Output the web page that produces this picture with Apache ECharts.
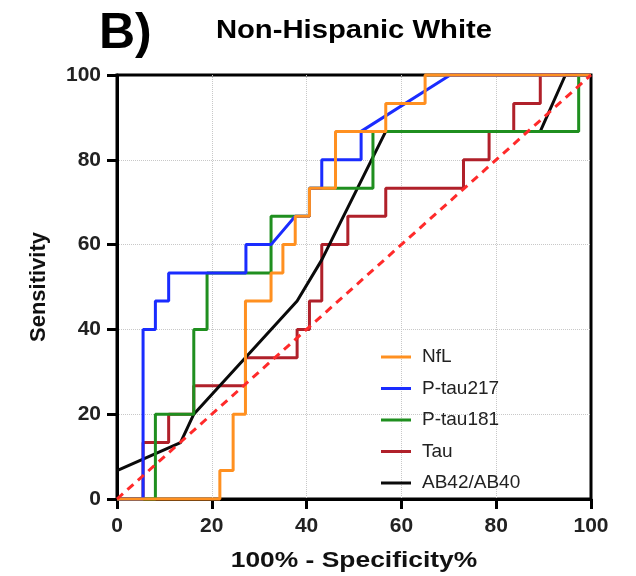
<!DOCTYPE html>
<html>
<head>
<meta charset="utf-8">
<script src="https://cdn.jsdelivr.net/npm/echarts@6/dist/echarts.min.js"></script>
<style>
  html, body { margin: 0; padding: 0; background: #fff; }
  #chart { width: 636px; height: 576px; }
</style>
</head>
<body>
<div id="chart"></div>
<script>
// ROC curve vertices (100% - specificity %, sensitivity %)
var nflX = [0, 21.7, 21.7, 24.5, 24.5, 27.1, 27.1, 32.5, 32.5, 35.0, 35.0, 37.6, 37.6, 40.6, 40.6, 46.1, 46.1, 56.7, 56.7, 65.0, 65.0, 100];
var nflY = [0, 0, 6.7, 6.7, 20, 20, 46.7, 46.7, 53.3, 53.3, 60, 60, 66.7, 66.7, 73.3, 73.3, 86.7, 86.7, 93.3, 93.3, 100, 100];

var pt217X = [0, 5.5, 5.5, 8.1, 8.1, 10.9, 10.9, 27.2, 27.2, 32.5, 37.6, 40.6, 40.6, 43.2, 43.2, 51.5, 51.5, 70.3, 100];
var pt217Y = [0, 0, 40, 40, 46.7, 46.7, 53.3, 53.3, 60, 60, 66.7, 66.7, 73.3, 73.3, 80, 80, 86.7, 100, 100];

var pt181X = [0, 8.1, 8.1, 16.2, 16.2, 19.0, 19.0, 32.5, 32.5, 40.6, 40.6, 54.0, 54.0, 97.4, 97.4, 100];
var pt181Y = [0, 0, 20, 20, 40, 40, 53.3, 53.3, 66.7, 66.7, 73.3, 73.3, 86.7, 86.7, 100, 100];

var tauX = [0, 5.5, 5.5, 10.9, 10.9, 16.2, 16.2, 27.1, 27.1, 38.0, 38.0, 40.6, 40.6, 43.2, 43.2, 48.7, 48.7, 56.7, 56.7, 73.1, 73.1, 78.5, 78.5, 83.7, 83.7, 89.3, 89.3, 100];
var tauY = [0, 0, 13.3, 13.3, 20, 20, 26.7, 26.7, 33.3, 33.3, 40, 40, 46.7, 46.7, 60, 60, 66.7, 66.7, 73.3, 73.3, 80, 80, 86.7, 86.7, 93.3, 93.3, 100, 100];

var abX = [0, 13.4, 16.2, 38.0, 43.2, 56.7, 89.3, 94.6, 100];
var abY = [6.7, 13.3, 20, 46.7, 56.4, 86.7, 86.7, 100, 100];

var refX = [0, 100];
var refY = [0, 100];

var legendNames = ['NfL', 'P-tau217', 'P-tau181', 'Tau', 'AB42/AB40'];

function pairs(xs, ys) {
  var out = [];
  for (var i = 0; i < xs.length; i++) out.push([xs[i], ys[i]]);
  return out;
}

var font = "'Liberation Sans', Arial, sans-serif";

function rocLine(name, color, xs, ys, z) {
  return {
    name: name,
    type: 'line',
    data: pairs(xs, ys),
    showSymbol: false,
    clip: false,
    z: z,
    lineStyle: { color: color, width: 3 },
    itemStyle: { color: color }
  };
}

var chart = echarts.init(document.getElementById('chart'));
chart.setOption({
  animation: false,
  title: [
    { text: 'B)', left: 94, top: 4, textStyle: { fontFamily: font, fontSize: 50, fontWeight: 'bold', color: '#000' } }
  ],
  graphic: [
    // the source picture is stretched sideways, so these texts are widened a little
    { type: 'text', x: 354, y: 31, scaleX: 1.17,
      style: { text: 'Non-Hispanic White', font: 'bold 25px ' + font, fill: '#000', textAlign: 'center', textVerticalAlign: 'middle' } },
    { type: 'text', x: 354, y: 561, scaleX: 1.2,
      style: { text: '100% - Specificity%', font: 'bold 22px ' + font, fill: '#111', textAlign: 'center', textVerticalAlign: 'middle' } }
  ],
  grid: { left: 117, right: 45, top: 75, bottom: 77, show: true, borderColor: '#000', borderWidth: 3, backgroundColor: 'transparent' },
  legend: {
    data: legendNames,
    orient: 'vertical',
    left: 376,
    top: 342,
    icon: 'rect',
    itemWidth: 30,
    itemHeight: 3,
    itemGap: 11.5,
    textStyle: { fontFamily: font, fontSize: 19, color: '#222', lineHeight: 20, padding: [0, 0, 0, 6] }
  },
  xAxis: {
    type: 'value', min: 0, max: 100, interval: 20,
    axisLine: { lineStyle: { color: '#000', width: 3 } },
    axisTick: { show: true, inside: false, length: 10, lineStyle: { color: '#000', width: 3 } },
    axisLabel: { fontFamily: font, fontSize: 21, fontWeight: 'bold', color: '#222', margin: 17 },
    splitLine: { show: true, showMinLine: false, showMaxLine: false, lineStyle: { color: '#c8c8c8', type: 'dotted', width: 1 } }
  },
  yAxis: {
    type: 'value', min: 0, max: 100, interval: 20,
    name: 'Sensitivity', nameLocation: 'middle', nameGap: 67,
    nameTextStyle: { fontFamily: font, fontSize: 22, fontWeight: 'bold', color: '#111' },
    axisLine: { show: true, lineStyle: { color: '#000', width: 3 } },
    axisTick: { show: true, inside: false, length: 10, lineStyle: { color: '#000', width: 3 } },
    axisLabel: { fontFamily: font, fontSize: 21, fontWeight: 'bold', color: '#222', margin: 16 },
    splitLine: { show: true, showMinLine: false, showMaxLine: false, lineStyle: { color: '#c8c8c8', type: 'dotted', width: 1 } }
  },
  series: [
    rocLine('Tau', '#b0202a', tauX, tauY, 2),
    rocLine('AB42/AB40', '#0a0a0a', abX, abY, 3),
    rocLine('P-tau181', '#1f8f1f', pt181X, pt181Y, 4),
    rocLine('P-tau217', '#1a2cff', pt217X, pt217Y, 5),
    rocLine('NfL', '#ff9020', nflX, nflY, 6),
    {
      name: 'Reference',
      type: 'line',
      data: pairs(refX, refY),
      showSymbol: false,
      clip: false,
      z: 7,
      lineStyle: { color: '#ff2a2a', width: 3, type: [8, 6] }
    }
  ]
});
</script>
</body>
</html>
